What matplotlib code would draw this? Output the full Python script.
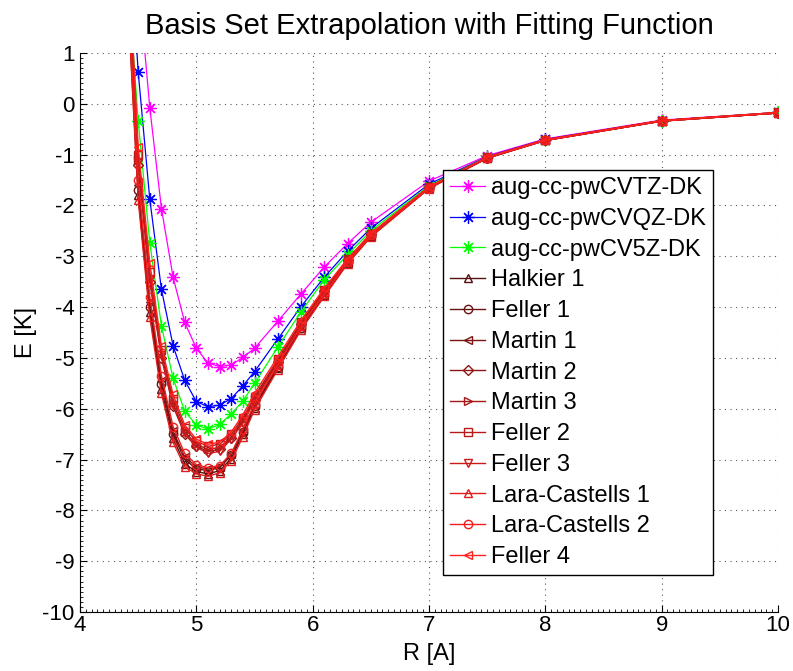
import matplotlib
matplotlib.use('Agg')
import matplotlib.pyplot as plt
from matplotlib.ticker import MultipleLocator

plt.rcParams['font.family'] = ['Liberation Sans', 'DejaVu Sans']
plt.rcParams['axes.unicode_minus'] = False

# internuclear distance R [A]
R = [4.4, 4.5, 4.6, 4.7, 4.8, 4.9, 5.0, 5.1, 5.2, 5.3, 5.4, 5.5,
     5.7, 5.9, 6.1, 6.3, 6.5, 7.0, 7.5, 8.0, 9.0, 10.0]

# raw basis set curves
tz = [6.0, 2.50, -0.08, -2.06, -3.41, -4.30, -4.81, -5.10, -5.17, -5.14, -4.99, -4.81,
      -4.28, -3.74, -3.21, -2.75, -2.33, -1.52, -1.02, -0.69, -0.32, -0.17]
qz = [4.3, 0.63, -1.88, -3.65, -4.76, -5.44, -5.86, -5.96, -5.93, -5.80, -5.55, -5.27,
      -4.63, -3.99, -3.41, -2.90, -2.45, -1.58, -1.04, -0.70, -0.33, -0.17]
v5z = [2.9, -0.33, -2.74, -4.37, -5.40, -6.05, -6.32, -6.40, -6.31, -6.10, -5.85, -5.50,
       -4.79, -4.09, -3.46, -2.97, -2.50, -1.61, -1.05, -0.71, -0.33, -0.17]

# extrapolated curves
halkier1 = [2.6, -1.80, -4.10, -5.62, -6.58, -7.08, -7.24, -7.28, -7.22, -6.98, -6.50, -5.98,
            -5.20, -4.42, -3.77, -3.13, -2.61, -1.66, -1.07, -0.72, -0.34, -0.18]
feller1 = [2.8, -1.70, -4.00, -5.52, -6.50, -7.00, -7.18, -7.22, -7.16, -6.92, -6.45, -5.95,
           -5.18, -4.41, -3.76, -3.12, -2.60, -1.66, -1.07, -0.72, -0.34, -0.18]
martin1 = [2.9, -1.60, -3.90, -5.45, -6.44, -6.95, -7.14, -7.19, -7.14, -6.90, -6.43, -5.93,
           -5.16, -4.40, -3.75, -3.12, -2.60, -1.65, -1.06, -0.72, -0.34, -0.18]
martin2 = [3.3, -1.20, -3.50, -5.00, -5.95, -6.50, -6.74, -6.84, -6.80, -6.58, -6.25, -5.82,
           -5.08, -4.33, -3.69, -3.08, -2.57, -1.64, -1.06, -0.71, -0.33, -0.18]
martin3 = [3.4, -1.10, -3.40, -4.92, -5.88, -6.45, -6.70, -6.80, -6.76, -6.55, -6.22, -5.80,
           -5.06, -4.32, -3.68, -3.07, -2.57, -1.64, -1.06, -0.71, -0.33, -0.18]
feller2 = [3.5, -1.00, -3.30, -4.85, -5.80, -6.38, -6.64, -6.74, -6.70, -6.50, -6.18, -5.76,
           -5.03, -4.30, -3.66, -3.06, -2.56, -1.63, -1.05, -0.71, -0.33, -0.17]
feller3 = [3.3, -1.15, -3.45, -4.95, -5.92, -6.48, -6.76, -6.88, -6.84, -6.60, -6.28, -5.85,
           -5.10, -4.35, -3.70, -3.09, -2.58, -1.64, -1.06, -0.71, -0.33, -0.18]
lara1 = [2.5, -1.89, -4.20, -5.70, -6.66, -7.14, -7.28, -7.33, -7.26, -7.03, -6.55, -6.02,
         -5.23, -4.45, -3.79, -3.15, -2.62, -1.67, -1.07, -0.72, -0.34, -0.18]
lara2 = [2.7, -1.50, -3.80, -5.35, -6.35, -6.88, -7.10, -7.16, -7.12, -6.88, -6.40, -5.90,
         -5.14, -4.38, -3.74, -3.11, -2.59, -1.65, -1.06, -0.72, -0.34, -0.18]
feller4 = [3.6, -0.84, -3.13, -4.77, -5.72, -6.32, -6.60, -6.70, -6.66, -6.46, -6.12, -5.70,
           -4.98, -4.26, -3.63, -3.05, -2.55, -1.63, -1.05, -0.71, -0.33, -0.17]

basis_labels = ['aug-cc-pwCVTZ-DK', 'aug-cc-pwCVQZ-DK', 'aug-cc-pwCV5Z-DK']
basis_data = [tz, qz, v5z]
basis_colors = ['#ff00ff', '#0000ff', '#00ff00']

extrap_labels = ['Halkier 1', 'Feller 1', 'Martin 1', 'Martin 2', 'Martin 3',
                 'Feller 2', 'Feller 3', 'Lara-Castells 1', 'Lara-Castells 2', 'Feller 4']
extrap_data = [halkier1, feller1, martin1, martin2, martin3,
               feller2, feller3, lara1, lara2, feller4]
extrap_markers = ['^', 'o', '<', 'D', '>', 's', 'v', '^', 'o', '<']
extrap_colors = ['#551010', '#681212', '#7c1414', '#901616', '#a41818',
                 '#b81a1a', '#cc1a1a', '#e01c1c', '#f01e1e', '#ff2020']

fig = plt.figure(figsize=(7.93, 6.71), dpi=100)
ax = fig.add_axes([80 / 793, 59 / 671, 698 / 793, 559 / 671])

for lab, y, c in zip(basis_labels, basis_data, basis_colors):
    ax.plot(R, y, color=c, marker=(8, 2, 0), markersize=9, linewidth=0.9,
            markeredgewidth=0.9, label=lab)

for lab, y, m, c in zip(extrap_labels, extrap_data, extrap_markers, extrap_colors):
    ms = 5 if m == 'D' else 6
    ax.plot(R, y, color=c, marker=m, markersize=ms, linewidth=1.0,
            markerfacecolor='none', markeredgewidth=1.0, label=lab)

ax.set_xlim(4, 10)
ax.set_ylim(-10, 1)
ax.set_xticks(range(4, 11))
ax.set_yticks(range(-10, 2))
ax.xaxis.set_minor_locator(MultipleLocator(0.05))
ax.yaxis.set_minor_locator(MultipleLocator(0.1))
ax.tick_params(which='both', direction='in', top=False, right=False)
ax.tick_params(which='major', length=5, labelsize=16)
ax.tick_params(which='minor', length=2)
ax.tick_params(axis='x', pad=2)
ax.tick_params(axis='y', pad=4)
ax.spines['top'].set_visible(False)
ax.spines['right'].set_visible(False)
ax.grid(True, which='major', linestyle=(0, (1, 4)), color='0.35', linewidth=0.8)

ax.set_title('Basis Set Extrapolation with Fitting Function', fontsize=21, pad=14)
ax.set_xlabel('R [A]', fontsize=17, labelpad=5)
ax.set_ylabel('E [K]', fontsize=17, labelpad=4)

leg = ax.legend(loc='lower left', bbox_to_anchor=(0.520, 0.066), fontsize=17,
                frameon=True, fancybox=False, framealpha=1, edgecolor='black',
                borderaxespad=0, borderpad=0.3, labelspacing=0.37,
                handlelength=1.5, handletextpad=0.25)
leg.get_frame().set_linewidth(1.0)

fig.savefig('out.png', dpi=100)
